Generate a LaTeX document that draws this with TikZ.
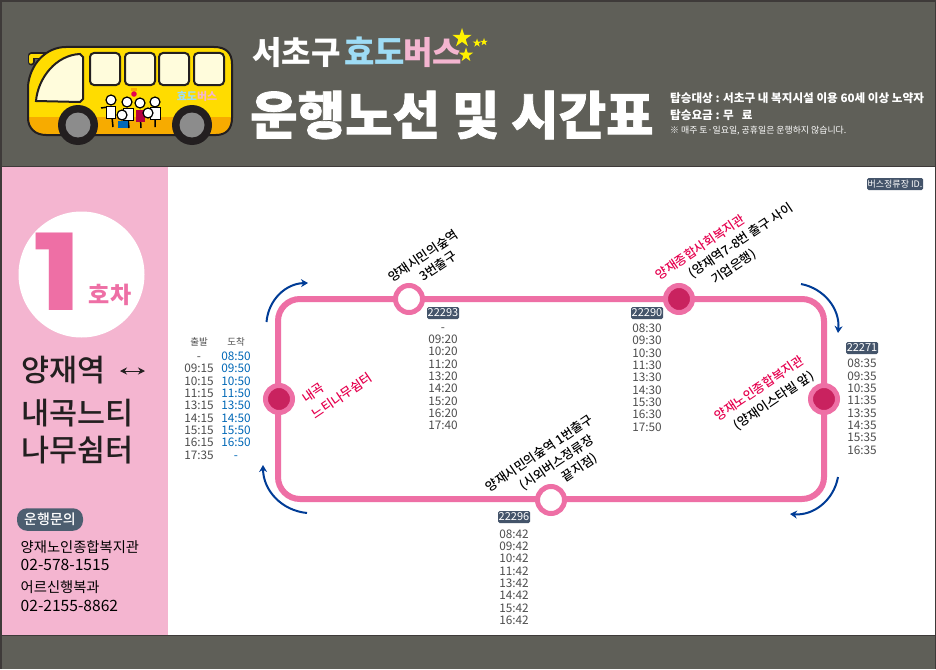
\documentclass[tikz,border=0pt]{standalone}
\usepackage{fontspec}
\setmainfont{Noto Sans CJK KR}
\newfontfamily\heavyfont[FakeBold=1.4]{Noto Sans CJK KR Black}
\newfontfamily\mediumfont{Noto Sans CJK KR Medium}
\newfontfamily\numfont{Poppins}
\usetikzlibrary{arrows.meta,shapes.geometric}
\definecolor{headgray}{HTML}{5F5F58}
\definecolor{framegray}{HTML}{3E3A39}
\definecolor{sidepink}{HTML}{F4B5D0}
\definecolor{routepink}{HTML}{EE6FA5}
\definecolor{stopred}{HTML}{C9225F}
\definecolor{labelred}{HTML}{E6004F}
\definecolor{badgeblue}{HTML}{44546A}
\definecolor{askblue}{HTML}{4D5E70}
\definecolor{flowblue}{HTML}{003C96}
\definecolor{timegray}{HTML}{4D4D4D}
\definecolor{timeblue}{HTML}{0068B7}
\definecolor{busyellow}{HTML}{FFDC00}
\definecolor{busorange}{HTML}{F7AB00}
\definecolor{buswindow}{HTML}{FFFCDC}
\definecolor{busdark}{HTML}{231F20}
\definecolor{hyoblue}{HTML}{9EDCF5}
\newcommand{\fs}[1]{\fontsize{#1}{#1}\selectfont}
\tikzset{
	routeline/.style={draw=routepink,line width=6pt},
	openstop/.style={circle,draw=routepink,line width=5pt,fill=white,minimum size=27pt,inner sep=0pt},
	mainstop/.style={circle,draw=routepink,line width=5pt,fill=stopred,minimum size=27pt,inner sep=0pt},
	flowarrow/.style={draw=flowblue,line width=2pt,-{Stealth[length=7pt,width=8pt]},bend left=42},
	idbadge/.style={fill=badgeblue,text=white,rounded corners=1.5pt,minimum width=32pt,minimum height=12pt,inner sep=0pt,font=\fs{11}},
	timecell/.style={anchor=base,inner sep=0pt,font=\fs{11.8}},
	stoplabel/.style={rotate=34,inner sep=0pt,font=\mediumfont\fs{12.6}},
	sidetitle/.style={anchor=west,inner sep=0pt,text=busdark,font=\mediumfont\fs{30.5}},
	sidetext/.style={anchor=west,inner sep=0pt,text=black,font=\fs{14.3}},
	sidenum/.style={anchor=west,inner sep=0pt,text=black,font=\fs{15.6}},
	infotext/.style={anchor=west,inner sep=0pt,text=white,font=\fs{11.6}\bfseries},
	busline/.style={draw=busdark,line width=2pt},
	oldhead/.style={circle,draw=black,line width=1.2pt,fill=white,inner sep=0pt,minimum size=10pt},
}
\begin{document}
\begin{tikzpicture}[x=1pt,y=-1pt]
	\useasboundingbox (0,0) rectangle (936,669);
	% background
	\fill[framegray] (0,0) rectangle (936,669);
	\fill[white] (2,167) rectangle (935,635);
	\fill[headgray] (2,2) rectangle (935,166);
	\fill[headgray] (2,636) rectangle (935,669);
	\fill[sidepink] (2,167) rectangle (168,635);
	% bus
	\def\buspath{(28,86) .. controls (30,64) and (46,47) .. (66,47) -- (214,47) .. controls (226,47) and (232,53) .. (232,64) -- (232,118) .. controls (232,129) and (226,135) .. (216,135) -- (46,135) .. controls (35,135) and (28,128) .. (28,118) -- cycle}
	\draw[busdark,line width=7pt,line cap=round,line join=round] (31,62) -- (31,56) -- (50,56);
	\draw[busyellow,line width=3.5pt,line cap=round,line join=round] (31,62) -- (31,56) -- (50,56);
	\fill[busyellow] \buspath;
	\begin{scope}
		\clip \buspath;
		\fill[busorange] (20,117) rectangle (240,140);
	\end{scope}
	\draw[busline] \buspath;
	\filldraw[fill=buswindow,busline] (36,101) .. controls (38,78) and (56,55) .. (80,54) -- (83,57) -- (83,99) -- (80,102) -- cycle;
	\foreach \wx in {90,125,159,194}
		\filldraw[fill=buswindow,busline,rounded corners=4pt] (\wx,53) rectangle ++(30,32);
	\foreach \wx in {78,192} {
		\fill[busdark] (\wx,125) circle (20pt);
		\fill[gray!90] (\wx,125) circle (12.5pt);
	}
	% people on the bus
	\fill[labelred] (134,94) circle (2.8pt);
	\fill[busorange] (131,88) rectangle (137,91);
	\draw[black,line width=1.5pt] (108,107) -- (101,108) (111,107) -- (113,127) (127,108) -- (129,128) (140,110) -- (141,128) (155,108) -- (155,127);
	\filldraw[fill=white,draw=black] (106,106) rectangle (115,118) (123,108) rectangle (133,120) (150,107) rectangle (160,119);
	\fill[labelred!80!black] (136,110) rectangle (145,122);
	\fill[timeblue] (118,121) rectangle (128,128);
	\foreach \hx/\hy in {111/100,127/102,140/103,155/102,122/115,148/113}
		\node[oldhead] (head\hx) at (\hx,\hy) {};
	\node[inner sep=0pt,text=hyoblue,font=\fs{11}\bfseries] (minilogo) at (197,96) {효도\textcolor{sidepink}{버스}};
	\node[star,star points=5,fill=busyellow,minimum size=8pt,inner sep=0pt] (ministar) at (218,94) {};
	% title
	\node[anchor=west,inner sep=0pt,text=white,font=\fs{32}\bfseries] (gu) at (252,53) {서초구};
	\node[anchor=west,inner sep=0pt,text=hyoblue,font=\fs{33}\bfseries] (hyodo) at (344,51) {효도};
	\node[anchor=west,inner sep=0pt,text=sidepink,font=\fs{32}\bfseries] (beoseu) at (403,53) {버스};
	\foreach \sx/\sy/\ss in {462/38/20,466/55/15,477/43/9,484/42/8}
		\node[star,star points=5,star point ratio=2.6,fill=yellow,minimum size=\ss pt,inner sep=0pt] (star\sx) at (\sx,\sy) {};
	\node[anchor=west,inner sep=0pt,text=white,font=\heavyfont\fs{51.6}] (title) at (250,115) {운행노선 및 시간표};
	\node[infotext] (target) at (670,98) {탑승대상 : 서초구 내 복지시설 이용 60세 이상 노약자};
	\node[infotext] (fare) at (670,115) {탑승요금 : 무\ \ \ 료};
	\node[infotext,font=\fs{8.9}] (notice) at (670,131) {※ 매주 토·일요일, 공휴일은 운행하지 않습니다.};
	\node[idbadge,minimum width=56pt,font=\fs{9}] (idkey) at (895,184) {버스정류장 ID.};
	% side panel
	\node[circle,fill=white,minimum size=126pt,inner sep=0pt] (badge) at (81.5,274.5) {};
	\node[inner sep=0pt,text=routepink,xscale=1.13,yscale=.9,font=\numfont\fs{118}\bfseries] (one) at (57.5,271.5) {1};
	\node[inner sep=0pt,text=routepink,font=\fs{23}\bfseries] (car) at (110,295) {호차};
	\node[sidetitle] (yj) at (21,370) {양재역};
	\coordinate (ya) at (120,371);
	\coordinate (yb) at (145,371);
	\draw[busdark,line width=1pt,{Stealth[length=7pt,width=7pt]}-{Stealth[length=7pt,width=7pt]}] (ya) -- (yb);
	\node[sidetitle] (ng) at (21,413) {내곡느티};
	\node[sidetitle] (nm) at (21,450) {나무쉼터};
	\node[fill=askblue,text=white,rounded corners=10pt,minimum width=66pt,minimum height=22.5pt,inner sep=0pt,font=\mediumfont\fs{14}] (ask) at (50,519.5) {운행문의};
	\node[sidetext] (welfare) at (20.5,547) {양재노인종합복지관};
	\node[sidenum] (tel1) at (20.5,565) {02-578-1515};
	\node[sidetext] (senior) at (20.5,587) {어르신행복과};
	\node[sidenum] (tel2) at (20.5,606) {02-2155-8862};
	% route
	\path (278,299) coordinate (LT) (824,499) coordinate (RB);
	\draw[routeline,rounded corners=22pt] (LT) rectangle (RB);
	\node[openstop] (sA) at (409,299) {};
	\node[mainstop] (sB) at (679,299) {};
	\node[mainstop] (sC) at (824,399) {};
	\node[openstop] (sD) at (551,500) {};
	\node[mainstop] (sE) at (279,399) {};
	\path (266.5,322) coordinate (a1) (308,283) coordinate (a2)
	(801,284) coordinate (b1) (838,333) coordinate (b2)
	(838,477) coordinate (c1) (790,514) coordinate (c2)
	(307,513) coordinate (d1) (263,465) coordinate (d2);
	\foreach \p/\q in {a1/a2,b1/b2,c1/c2,d1/d2} \draw[flowarrow] (\p) to (\q);
	% stop labels
	\foreach \n/\x/\y/\c/\t in {
		A1/423/256/black/양재시민의숲역,A2/438/266/black/3번출구,
		E1/313/393/labelred/내곡,E2/342/396/labelred/느티나무쉼터,
		B1/700/247/labelred/양재종합사회복지관,B2/741/241/black/(양재역7-8번 출구 사이,B3/734/267/black/기업은행),
		C1/759/388/labelred/양재노인종합복지관,C2/774/401/black/(양재이스타빌 앞),
		D1/539/453/black/양재시민의숲역 1번출구,D2/557/463/black/(시외버스정류장,D3/580/468/black/끝지점)}
		\node[stoplabel,text=\c] (n\n) at (\x,\y) {\t};
	% timetable
	\node[inner sep=0pt,text=timegray,font=\fs{9.5}] (hd1) at (199,342) {출발};
	\node[inner sep=0pt,text=timegray,font=\fs{9.5}] (hd2) at (236,342) {도착};
	\foreach \k/\x/\y/\c/\rows in {
		dep/199/360.4/timegray/{-,09:15,10:15,11:15,13:15,14:15,15:15,16:15,17:35},
		arr/236/360.4/timeblue/{08:50,09:50,10:50,11:50,13:50,14:50,15:50,16:50,-},
		tA/443/331.1/timegray/{-,09:20,10:20,11:20,13:20,14:20,15:20,16:20,17:40},
		tB/647/332.4/timegray/{08:30,09:30,10:30,11:30,13:30,14:30,15:30,16:30,17:50},
		tC/862/367.7/timegray/{08:35,09:35,10:35,11:35,13:35,14:35,15:35,16:35},
		tD/514/538.1/timegray/{08:42,09:42,10:42,11:42,13:42,14:42,15:42,16:42}}
		\foreach \t [count=\i from 0] in \rows
			\node[timecell,text=\c] (\k\i) at (\x,\y+\i*12.33) {\t};
	\node[idbadge] (idA) at (443,313) {22293};
	\node[idbadge] (idB) at (647,313) {22290};
	\node[idbadge] (idC) at (862,348) {22271};
	\node[idbadge] (idD) at (514,517) {22296};
\end{tikzpicture}
\end{document}
